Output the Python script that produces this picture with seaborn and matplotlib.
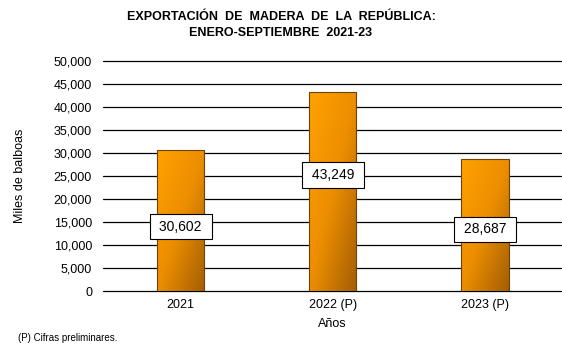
import numpy as np
import pandas as pd
import matplotlib
matplotlib.use("Agg")
import matplotlib.pyplot as plt
import seaborn as sns
from matplotlib.colors import LinearSegmentedColormap

# Wood exports, January-September (thousands of balboas)
years = ["2021", "2022 (P)", "2023 (P)"]
values = [30602, 43249, 28687]
y_ticks = [0, 5000, 10000, 15000, 20000, 25000, 30000, 35000, 40000, 45000, 50000]

# height (data units) where each value box sits
label_pos = [14000, 25200, 13400]

sns.set_theme(style="white")
plt.rcParams["font.family"] = ["Liberation Sans", "DejaVu Sans"]
plt.rcParams["text.color"] = "black"

df = pd.DataFrame({"Año": years, "Valor": values})

fig = plt.figure(figsize=(5.62, 3.46), dpi=100)
ax = fig.add_axes([104.5 / 562, 1 - 291 / 346, (561 - 104.5) / 562, 230 / 346])

sns.barplot(data=df, x="Año", y="Valor", ax=ax, width=0.31,
            color="#F39200", edgecolor="#6B4210", linewidth=0.8, zorder=3)

# diagonal orange-to-brown shading inside each bar
cmap = LinearSegmentedColormap.from_list("wood", ["#FFA200", "#EC8E00", "#A45E04"])
gx, gy = np.meshgrid(np.linspace(0, 1, 64), np.linspace(0, 1, 64))
grad = (gx + gy) / 2
for patch in ax.patches:
    x0, y0 = patch.get_x(), patch.get_y()
    w, h = patch.get_width(), patch.get_height()
    im = ax.imshow(grad, cmap=cmap, extent=[x0, x0 + w, y0, y0 + h],
                   origin="upper", aspect="auto", zorder=3.5, interpolation="bilinear")
    im.set_clip_path(patch)
    patch.set_facecolor("none")
    patch.set_zorder(4)

ax.set_xlim(-0.5, 2.5)
ax.set_ylim(0, 50000)
ax.set_yticks(y_ticks)
ax.set_yticklabels([f"{v:,}" for v in y_ticks], fontsize=9, color="black")
ax.tick_params(axis="x", labelsize=9, colors="black", pad=6, length=0)
ax.tick_params(axis="y", pad=9, length=0)

for v in y_ticks:
    ax.axhline(v, color="black", linewidth=0.9, zorder=1, xmin=-0.004, clip_on=False)

for s in ax.spines.values():
    s.set_visible(False)

ax.set_xlabel("Años", fontsize=9, color="black", labelpad=5)
ax.set_ylabel("Miles de balboas", fontsize=9, color="black", labelpad=20)

for i, (v, yp) in enumerate(zip(values, label_pos)):
    ax.text(i, yp, f" {v:,} ", ha="center", va="center", fontsize=10, color="black", zorder=6,
            bbox=dict(boxstyle="square,pad=0.42", facecolor="white", edgecolor="black",
                      linewidth=0.8))

fig.text(0.5, 1 - 17 / 346, "EXPORTACIÓN  DE  MADERA  DE  LA  REPÚBLICA:",
         ha="center", va="center", fontsize=9, fontweight="bold", color="black")
fig.text(0.5, 1 - 33 / 346, "ENERO-SEPTIEMBRE  2021-23",
         ha="center", va="center", fontsize=9, fontweight="bold", color="black")
fig.text(18 / 562, 1 - 338 / 346, "(P) Cifras preliminares.", ha="left", va="center",
         fontsize=7, color="black")

fig.savefig("out.png", dpi=100, facecolor="white")
